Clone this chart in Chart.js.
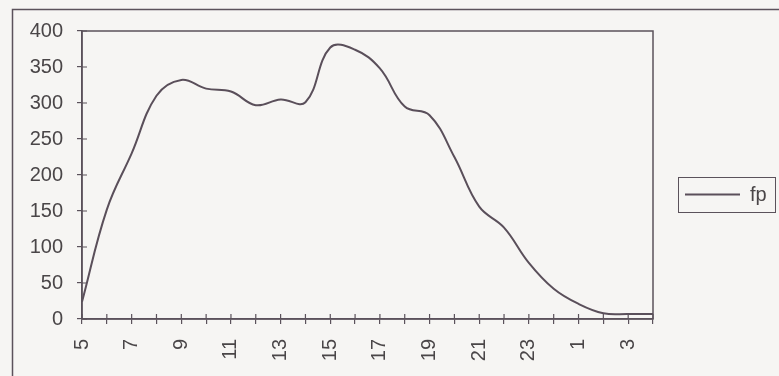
<!DOCTYPE html>
<html>
<head>
<meta charset="utf-8">
<script src="https://cdn.jsdelivr.net/npm/chart.js@4"></script>
<style>
  html, body { margin: 0; padding: 0; background: #f6f5f3; }
  #wrap { width: 779px; height: 376px; }
</style>
</head>
<body>
<div id="wrap"><canvas id="fpChart" width="779" height="376"></canvas></div>
<script>
// hour of day, 5 in the morning round to 4 the next morning
const hours = ['5', '6', '7', '8', '9', '10', '11', '12', '13', '14', '15', '16',
               '17', '18', '19', '20', '21', '22', '23', '24', '1', '2', '3', '4'];
const fpValues = [24, 152, 230, 310, 332, 320, 316, 297, 305, 301, 377, 374,
                  348, 295, 283, 225, 156, 127, 78, 42, 21, 8, 7, 7];
const seriesLabel = 'fp';
const yMin = 0, yMax = 400, yStep = 50;

const ink = '#5b525b';
const textInk = '#4a4648';
const font = { family: "'Liberation Sans', Arial, sans-serif", size: 20 };

// frame round the plot, ticks crossing the axes, outer box and legend
const framePlugin = {
    id: 'frame',
    afterDraw(chart) {
        const ctx = chart.ctx;
        const a = chart.chartArea;
        const xs = chart.scales.x, ys = chart.scales.y;
        ctx.save();
        ctx.strokeStyle = ink;
        ctx.lineWidth = 1.5;
        // outer box (runs off right and bottom)
        ctx.strokeRect(12.5, 9.5, 900, 500);
        // plot box
        ctx.strokeRect(a.left, a.top, a.right - a.left, a.bottom - a.top);
        // inner halves of the tick marks
        ctx.lineWidth = 1.2;
        ctx.beginPath();
        xs.ticks.forEach((t, i) => {
            const px = xs.getPixelForTick(i);
            ctx.moveTo(px, a.bottom);
            ctx.lineTo(px, a.bottom - 5);
        });
        ys.ticks.forEach((t, i) => {
            const py = ys.getPixelForTick(i);
            ctx.moveTo(a.left, py);
            ctx.lineTo(a.left + 5, py);
        });
        ctx.stroke();

        // legend box
        const lx = 678, ly = 177, lw = 97, lh = 35;
        ctx.lineWidth = 1;
        ctx.strokeRect(lx + 0.5, ly + 0.5, lw, lh);
        const ds = chart.data.datasets[0];
        ctx.strokeStyle = ds.borderColor;
        ctx.lineWidth = 2;
        ctx.beginPath();
        ctx.moveTo(lx + 7, ly + lh / 2);
        ctx.lineTo(lx + 62, ly + lh / 2);
        ctx.stroke();
        ctx.fillStyle = textInk;
        ctx.font = font.size + 'px ' + font.family;
        ctx.textBaseline = 'middle';
        ctx.fillText(ds.label, lx + 72, ly + lh / 2 + 1);
        ctx.restore();
    }
};

new Chart(document.getElementById('fpChart'), {
    type: 'line',
    data: {
        labels: hours,
        datasets: [{
            label: seriesLabel,
            data: fpValues,
            borderColor: '#5a4f5a',
            borderWidth: 2,
            pointRadius: 0,
            tension: 0.4,
            fill: false
        }]
    },
    options: {
        responsive: false,
        animation: false,
        layout: { padding: { top: 31, right: 126, left: 0, bottom: 0 } },
        plugins: {
            legend: { display: false },
            tooltip: { enabled: false }
        },
        scales: {
            x: {
                offset: false,
                border: { color: ink, width: 1.5 },
                grid: { drawOnChartArea: false, drawTicks: true, tickLength: 5, color: ink, lineWidth: 1.2 },
                ticks: {
                    autoSkip: false,
                    minRotation: 90,
                    maxRotation: 90,
                    padding: 15,
                    color: textInk,
                    font: font,
                    callback: (v, i) => (i % 2 === 0 ? hours[i] : '')
                },
                afterFit(scale) { scale.height = 57; }
            },
            y: {
                min: yMin,
                max: yMax,
                border: { color: ink, width: 1.5 },
                grid: { drawOnChartArea: false, drawTicks: true, tickLength: 5, color: ink, lineWidth: 1.2 },
                ticks: { stepSize: yStep, padding: 14, color: textInk, font: font },
                afterFit(scale) { scale.width = 82; }
            }
        }
    },
    plugins: [framePlugin]
});
</script>
</body>
</html>
